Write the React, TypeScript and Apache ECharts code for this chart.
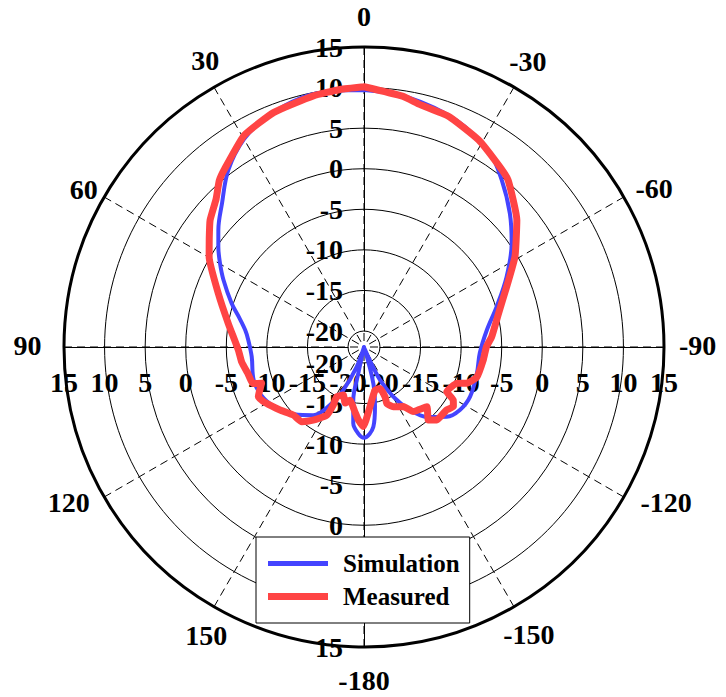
import React, { useEffect, useRef } from 'react';
import * as echarts from 'echarts';

// Angles in degrees, counter-clockwise from 0 at the top (90 = left, -90 = right), gains in dB.
const simAngles = [0, 7, 14, 23, 30, 37.5, 44.7, 51.2, 55.5, 59.8, 64.5, 71.7, 76.4, 81.9, 86.5, 94.9, 106.6, 117, 126.9, 134, 143.3, 149.6, 154.3, 159.7, 163.5, 167.8, 168.6, 172, 176.2, 180, -173.3, -169.6, -165.6, -161, -156, -154, -149.5, -143.9, -138, -130.1, -123.3, -115.1, -103.1, -93, -82.1, -73.1, -63.8, -54.9, -47.5, -39.5, -33, -22.2, -9.7];
const simGains = [9.7, 9.8, 9.7, 8.8, 7.6, 5.5, 2.9, 1.05, -0.2, -1.45, -2.8, -4.8, -6.1, -7.2, -7.7, -8.1, -7.8, -8.1, -9.05, -10.05, -11.5, -13.7, -16.1, -19.4, -22, -18.7, -15.3, -12.5, -11.3, -10.8, -12.1, -14.5, -17.4, -21.8, -20, -17.5, -14.9, -12.4, -10.4, -8.65, -7.85, -7.55, -7.7, -7.7, -6.7, -4.9, -2.4, 0.26, 2.4, 4.7, 6.5, 8.2, 9.3];

const measAngles = [0, 5.3, 11.4, 21, 29.5, 38, 41, 45, 50.5, 55, 59.8, 69.8, 80.1, 91.4, 97, 102.7, 108.2, 109.5, 115.2, 120, 126.9, 133.9, 140.2, 145.2, 151.3, 152.1, 151.2, 156.7, 161.4, 165.2, 172.1, 175.5, 179.5, -174.3, -165.7, -158.8, -157.1, -158, -153.9, -146.6, -142.7, -133.6, -138.6, -135.1, -127.3, -123.7, -120.7, -118.4, -111.4, -109.5, -105, -96.2, -89.9, -85.4, -76, -67.1, -59.1, -50.3, -40.8, -36.5, -28.9, -20.2, -12.9, -8.7];
const measGains = [10.1, 9.9, 9.6, 9.0, 8.0, 5.9, 5.2, 3.8, 2.6, 1.3, 0.1, -2.85, -5.0, -6.5, -6.8, -7.3, -7.6, -8.6, -7.6, -8.1, -9.05, -9.9, -10.0, -11.0, -12.4, -13.9, -15.0, -15.55, -14.7, -15.2, -13.9, -13.0, -12.2, -14.6, -16.5, -16.5, -15.3, -14.5, -13.8, -13.2, -12.0, -11.3, -10.0, -9.3, -9.2, -8.75, -9.2, -10.4, -9.7, -8.6, -7.6, -7.2, -6.9, -6.2, -4.9, -2.9, -0.3, 2.5, 5.2, 5.9, 7.2, 8.3, 8.7, 9.3];

const angleTicks = [0, 30, 60, 90, 120, 150, 180, 210, 240, 270, 300, 330];
const angleTickLabels = ['0', '30', '60', '90', '120', '150', '-180', '-150', '-120', '-90', '-60', '-30'];

const seriesNames = ['Simulation', 'Measured'];

const RADIUS_MIN = -22;
const RADIUS_MAX = 15;
const GRID_MIN = -20;
const GRID_STEP = 5;

// layout constants
const FONT = "'Liberation Serif', 'Times New Roman', serif";
const CENTER = [364, 347];
const R = 300;
const INNER = 16;
const ANGLE_LABEL_R = 18.9;
const ANGLE_LABEL_NUDGE = [
  [0, 1], [7, 1], [7, 8], [-5, -2], [-8, -10], [8, 1],
  [0, 2], [-1, 0], [15, -10], [2, -2], [3, 7], [-2, 2],
];

const toAxisAngle = (a: number) => (a < 0 ? a + 360 : a);
const toPoints = (angles: number[], gains: number[]) => {
  const pts = angles.map((a, i) => [gains[i], toAxisAngle(a)]);
  pts.push([gains[0], 360]);
  return pts;
};

const labelBase = {
  fontFamily: FONT,
  fontWeight: 700,
  fontSize: 28,
  color: '#000',
};

const hiddenAngle = (i: number, start: number) => ({
  polarIndex: i,
  type: 'value',
  min: 0,
  max: 360,
  startAngle: start,
  clockwise: false,
  axisLine: { show: false },
  axisTick: { show: false },
  axisLabel: { show: false },
  splitLine: { show: false },
});

const gridRadius = (i: number, label: any, split: boolean) => ({
  polarIndex: i,
  type: 'value',
  min: GRID_MIN,
  max: RADIUS_MAX,
  interval: GRID_STEP,
  axisLine: { show: true, lineStyle: { color: '#000', width: 1 } },
  axisTick: { show: false },
  axisLabel: { ...labelBase, ...label },
  splitLine: { show: split, lineStyle: { color: '#000', width: 1 } },
});

export default function App() {
  const ref = useRef<HTMLDivElement>(null);
  useEffect(() => {
    if (!ref.current) return;
    const chart = echarts.init(ref.current, null, { renderer: 'svg' });
    const option: any = {
      animation: false,
      backgroundColor: '#fff',
      textStyle: { fontFamily: FONT },
      polar: [
        { center: CENTER, radius: [0, R] },
        { center: CENTER, radius: [INNER, R] },
        { center: CENTER, radius: [INNER, R] },
        { center: CENTER, radius: [INNER, R] },
        { center: CENTER, radius: [INNER, R] },
      ],
      angleAxis: [
        {
          polarIndex: 0,
          type: 'value',
          min: 0,
          max: 360,
          interval: 30,
          startAngle: 90,
          clockwise: false,
          axisLine: { show: true, lineStyle: { color: '#000', width: 3 } },
          axisTick: { show: false },
          axisLabel: { show: false },
          splitLine: { show: true, lineStyle: { color: '#000', width: 1, type: [8, 5] } },
        },
        hiddenAngle(1, 90),
        hiddenAngle(2, 180),
        hiddenAngle(3, 270),
        hiddenAngle(4, 0),
      ],
      radiusAxis: [
        {
          polarIndex: 0,
          type: 'value',
          min: RADIUS_MIN,
          max: RADIUS_MAX,
          axisLine: { show: false },
          axisTick: { show: false },
          axisLabel: { show: false },
          splitLine: { show: false },
        },
        gridRadius(1, { margin: 21 }, true),
        gridRadius(2, { margin: 21 }, false),
        gridRadius(3, { margin: -21, align: 'right', verticalAlign: 'middle' }, false),
        gridRadius(4, { margin: -21, align: 'center', verticalAlign: 'top' }, false),
      ],
      legend: {
        data: [
          { name: seriesNames[0], icon: 'path://M0,0H60V5H0Z' },
          { name: seriesNames[1], icon: 'path://M0,0H60V7H0Z' },
        ],
        orient: 'vertical',
        left: 256,
        top: 537,
        z: 10,
        backgroundColor: '#fff',
        borderColor: '#000',
        borderWidth: 1,
        borderRadius: 0,
        padding: [14, 10, 14, 12],
        itemGap: 8,
        itemWidth: 60,
        itemHeight: 14,
        selectedMode: false,
        itemStyle: { borderWidth: 0 },
        textStyle: {
          fontFamily: FONT,
          fontWeight: 700,
          fontSize: 25,
          color: '#000',
          padding: [0, 0, 0, 10],
        },
      },
      series: [
        {
          name: seriesNames[0],
          type: 'line',
          coordinateSystem: 'polar',
          polarIndex: 0,
          data: toPoints(simAngles, simGains),
          symbol: 'none',
          smooth: 0.35,
          clip: false,
          z: 3,
          itemStyle: { color: '#4444ff' },
          lineStyle: { color: '#4444ff', width: 4, join: 'round', cap: 'round' },
        },
        {
          name: seriesNames[1],
          type: 'line',
          coordinateSystem: 'polar',
          polarIndex: 0,
          data: toPoints(measAngles, measGains),
          symbol: 'none',
          smooth: 0.15,
          clip: false,
          z: 4,
          itemStyle: { color: '#ff4444' },
          lineStyle: { color: '#ff4444', width: 7, join: 'round', cap: 'round' },
        },
        {
          type: 'custom',
          coordinateSystem: 'polar',
          polarIndex: 0,
          silent: true,
          clip: false,
          z: 5,
          data: angleTicks.map((a) => [ANGLE_LABEL_R, a]),
          encode: { radius: 0, angle: 1 },
          renderItem: (params: any, api: any) => {
            const p = api.coord([api.value(0), api.value(1)]);
            const i = params.dataIndex;
            const nudge = ANGLE_LABEL_NUDGE[i];
            return {
              type: 'text',
              x: p[0] + nudge[0],
              y: p[1] + nudge[1],
              style: {
                text: angleTickLabels[i],
                fill: '#000',
                font: `bold 28px ${FONT}`,
                align: 'center',
                verticalAlign: 'middle',
              },
            };
          },
        },
      ],
    };
    chart.setOption(option);
    return () => chart.dispose();
  }, []);
  return (
    <div
      ref={ref}
      style={{ position: 'absolute', left: 0, top: 0, width: 726, height: 697, background: '#fff' }}
    />
  );
}
